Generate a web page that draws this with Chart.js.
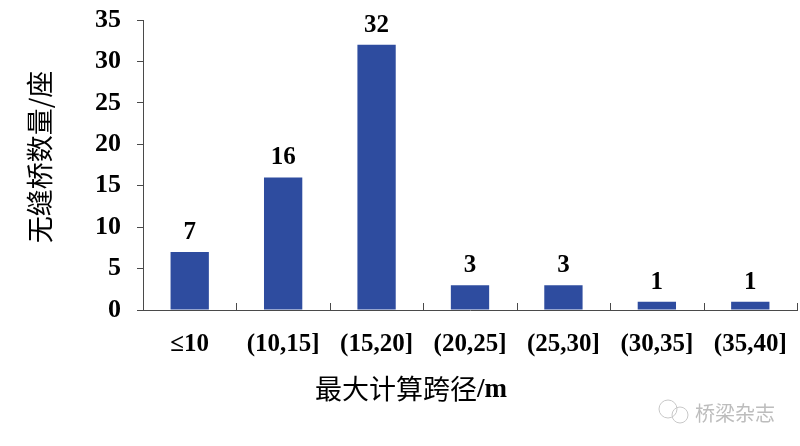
<!DOCTYPE html>
<html>
<head>
<meta charset="utf-8">
<title>最大计算跨径分布</title>
<script src="https://cdn.jsdelivr.net/npm/chart.js@4.4.1/dist/chart.umd.min.js"></script>
<style>
  html, body { margin: 0; padding: 0; background: #fff; overflow: hidden; }
  .chart-container { position: relative; width: 800px; height: 446px; }
</style>
</head>
<body>
<div class="chart-container">
  <canvas id="spanChart" width="800" height="446"></canvas>
</div>
<script>
// data
var categories = ["≤10", "(10,15]", "(15,20]", "(20,25]", "(25,30]", "(30,35]", "(35,40]"];
var bridgeCounts = [7, 16, 32, 3, 3, 1, 1];
var yTicks = [0, 5, 10, 15, 20, 25, 30, 35];

var xTitle = "最大计算跨径/m";
var yTitle = "无缝桥数量/座";
var watermark = "桥梁杂志";

var serifBold = "bold 25px 'Liberation Serif', 'Times New Roman', serif";
var cjkFont = "27px 'Noto Sans CJK SC', sans-serif";
var axisColor = "#4a4a4a";

// labels, inward x ticks, titles and the watermark
var extras = {
  id: "extras",
  afterDatasetsDraw: function(chart) {
    var ctx = chart.ctx;
    var xs = chart.scales.x, ys = chart.scales.y;
    var meta = chart.getDatasetMeta(0);

    ctx.save();
    // x tick marks pointing up at category boundaries
    ctx.strokeStyle = axisColor;
    ctx.lineWidth = 1;
    for (var i = 0; i <= categories.length; i++) {
      var px = Math.round(xs.getPixelForValue(i - 0.5)) + 0.5;
      ctx.beginPath();
      ctx.moveTo(px, ys.bottom);
      ctx.lineTo(px, ys.bottom - 7);
      ctx.stroke();
    }

    // value labels
    ctx.fillStyle = "#000";
    ctx.font = serifBold;
    ctx.textAlign = "center";
    ctx.textBaseline = "bottom";
    meta.data.forEach(function(bar, idx) {
      ctx.fillText(String(bridgeCounts[idx]), bar.x, bar.y - 7);
    });

    // x title: CJK part + "/m" in serif
    var parts = xTitle.split("/");
    ctx.font = cjkFont;
    var w1 = ctx.measureText(parts[0]).width;
    ctx.font = "bold 27px 'Liberation Serif', serif";
    var w2 = ctx.measureText("/" + parts[1]).width;
    var startX = 411 - (w1 + w2) / 2;
    ctx.textAlign = "left";
    ctx.textBaseline = "middle";
    ctx.font = cjkFont;
    ctx.fillText(parts[0], startX, 389);
    ctx.font = "bold 27px 'Liberation Serif', serif";
    ctx.fillText("/" + parts[1], startX + w1, 390);

    // y title rotated
    ctx.save();
    ctx.translate(40, 157);
    ctx.rotate(-Math.PI / 2);
    ctx.font = cjkFont;
    ctx.textAlign = "center";
    ctx.textBaseline = "middle";
    ctx.fillText(yTitle, 0, 0);
    ctx.restore();

    // watermark
    ctx.strokeStyle = "#c8c8c8";
    ctx.lineWidth = 1;
    ctx.beginPath();
    ctx.arc(668, 409, 9, 0, Math.PI * 2);
    ctx.stroke();
    ctx.beginPath();
    ctx.arc(680, 415, 8, 0, Math.PI * 2);
    ctx.stroke();
    ctx.fillStyle = "#bdbdbd";
    ctx.font = "20px 'Noto Sans CJK SC', sans-serif";
    ctx.textAlign = "left";
    ctx.fillText(watermark, 695, 413);
    ctx.restore();
  }
};

var chart = new Chart(document.getElementById("spanChart"), {
  type: "bar",
  data: {
    labels: categories,
    datasets: [{
      label: "无缝桥数量",
      data: bridgeCounts,
      backgroundColor: "#2e4c9f",
      borderWidth: 0,
      categoryPercentage: 1,
      barPercentage: 0.41
    }]
  },
  options: {
    responsive: false,
    animation: false,
    devicePixelRatio: 1,
    layout: { padding: { left: 0, right: 3, top: 20, bottom: 0 } },
    plugins: {
      legend: { display: false },
      tooltip: { enabled: false }
    },
    scales: {
      x: {
        offset: true,
        border: { display: true, color: axisColor, width: 1 },
        grid: { display: false },
        ticks: {
          color: "#000",
          font: { family: "'Liberation Serif', 'Times New Roman', serif", size: 25, weight: "bold" },
          padding: 12,
          maxRotation: 0,
          autoSkip: false
        },
        afterFit: function(scale) {
          scale.height = 136;
          scale.paddingLeft = 0;
          scale.paddingRight = 0;
        }
      },
      y: {
        min: 0,
        max: 35,
        afterBuildTicks: function(scale) {
          scale.ticks = yTicks.map(function(v) { return { value: v }; });
        },
        border: { display: true, color: axisColor, width: 1 },
        grid: { drawOnChartArea: false, drawTicks: true, tickLength: 6, color: axisColor },
        ticks: {
          color: "#000",
          font: { family: "'Liberation Serif', 'Times New Roman', serif", size: 26, weight: "bold" },
          padding: 16
        },
        afterFit: function(scale) {
          scale.width = 143;
          scale.paddingTop = 0;
          scale.paddingBottom = 0;
        }
      }
    }
  },
  plugins: [extras]
});
</script>
</body>
</html>
